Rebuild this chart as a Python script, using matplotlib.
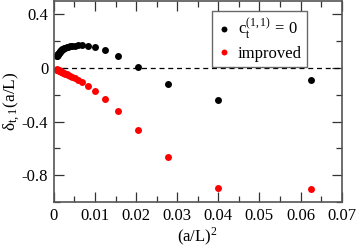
import numpy as np
import matplotlib
matplotlib.use("Agg")
from matplotlib import pyplot as plt
from matplotlib.ticker import MultipleLocator

# lattice sizes L, x = (a/L)^2
L = np.arange(4, 37)

# c_t^(1,1) = 0
delta_plain = [-0.087, -0.241, -0.120, 0.005, 0.086, 0.131, 0.154, 0.166, 0.168,
               0.168, 0.166, 0.164, 0.161, 0.158, 0.155, 0.151, 0.147, 0.143,
               0.139, 0.135, 0.131, 0.127, 0.123, 0.119, 0.115, 0.111, 0.107,
               0.104, 0.101, 0.098, 0.095, 0.092, 0.089]

# improved
delta_impr = [-0.900, -0.897, -0.666, -0.462, -0.318, -0.229, -0.169, -0.132, -0.107,
              -0.090, -0.077, -0.067, -0.059, -0.052, -0.047, -0.042, -0.038, -0.035,
              -0.032, -0.029, -0.027, -0.025, -0.023, -0.021, -0.020, -0.018, -0.017,
              -0.016, -0.015, -0.014, -0.013, -0.012, -0.011]

plt.rcParams["font.family"] = "Liberation Serif"
plt.rcParams["mathtext.fontset"] = "stix"

x = 1.0 / L**2

fig = plt.figure(figsize=(3.57, 2.5), dpi=100)
ax = fig.add_axes([0.151, 0.192, 0.806, 0.804])

ax.axhline(0, color="black", lw=0.9, ls=(0, (4, 3)))
ax.plot(x, delta_plain, "o", color="black", ms=5, mec="none", label=r"c$_\mathregular{t}^{\mathregular{(1,1)}}$ = 0")
ax.plot(x, delta_impr, "o", color="red", ms=5, mec="none", label="improved")

ax.set_xlim(0, 0.07)
ax.set_ylim(-1.0, 0.5)
ax.xaxis.set_minor_locator(MultipleLocator(0.005))
ax.yaxis.set_minor_locator(MultipleLocator(0.2))
ax.set_xticks([0, 0.01, 0.02, 0.03, 0.04, 0.05, 0.06, 0.07])
ax.set_xticklabels(["0", "0.01", "0.02", "0.03", "0.04", "0.05", "0.06", "0.07"])
ax.set_yticks([-0.8, -0.4, 0, 0.4])
ax.set_yticklabels(["-0.8", "-0.4", "0", "0.4"])

ax.tick_params(which="both", direction="in", top=True, right=True, labelsize=12, pad=4, color="#333333")
ax.tick_params(which="major", length=7, width=0.9)
ax.tick_params(which="minor", length=4, width=0.9)
for s in ax.spines.values():
    s.set_color("#555555")
    s.set_linewidth(1.2)

ax.set_xlabel(r"(a/L)$^\mathregular{2}$", fontsize=12, labelpad=1)
ax.set_ylabel(r"$\mathregular{\delta}_\mathregular{t,1}$(a/L)", fontsize=12.5, labelpad=0)

leg = ax.legend(loc="upper right", bbox_to_anchor=(0.91, 0.99), fontsize=12, frameon=True,
                fancybox=False, edgecolor="#444444", handletextpad=0.4, borderpad=0.35,
                handlelength=0.8, labelspacing=0.2, markerscale=0.85)
leg.get_frame().set_linewidth(1.0)

fig.savefig("out.png", dpi=100)
